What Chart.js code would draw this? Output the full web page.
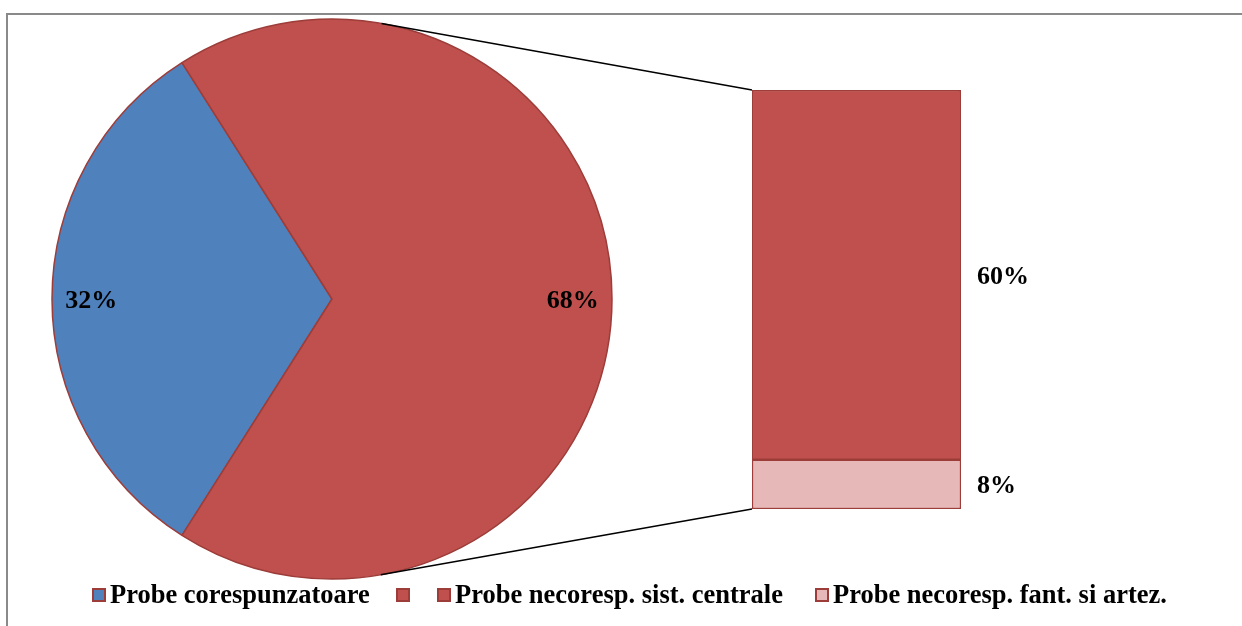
<!DOCTYPE html>
<html>
<head>
<meta charset="utf-8">
<script src="https://cdn.jsdelivr.net/npm/chart.js@4/dist/chart.umd.min.js"></script>
<style>
  html, body { margin: 0; padding: 0; background: #fff; overflow: hidden; }
  #stage { position: relative; width: 1242px; height: 626px; overflow: hidden; }
  #frame { position: absolute; left: 6px; top: 13px; width: 1300px; height: 700px;
           border-left: 2px solid #8a8a8a; border-top: 2px solid #8a8a8a; box-sizing: border-box; }
  canvas { position: absolute; left: 0; top: 0; }
  .legend-item { position: absolute; top: 581px; height: 27px; display: flex; align-items: center;
                 font-family: "Liberation Serif", "Times New Roman", serif; font-weight: bold;
                 font-size: 26.5px; line-height: 27px; color: #000; white-space: nowrap; }
  .legend-box { width: 10px; height: 10px; border: 2px solid #9c3d3a; margin-right: 4px; margin-top: 1px; flex: none; }
</style>
</head>
<body>
<div id="stage">
  <div id="frame"></div>
  <canvas id="pie" width="1242" height="626"></canvas>
  <canvas id="bar" width="1242" height="626"></canvas>
  <div id="legend"></div>
</div>
<script>
// Main pie: compliant samples vs. the aggregated non-compliant share
const pieLabels = ['Probe corespunzatoare', ''];
const pieValues = [32, 68];

// Breakdown of the non-compliant share (bottom segment first)
const barLabels = ['Probe necoresp. fant. si artez.', 'Probe necoresp. sist. centrale'];
const barValues = [8, 60];

// Legend entries in display order
const legendLabels = ['Probe corespunzatoare', '', 'Probe necoresp. sist. centrale', 'Probe necoresp. fant. si artez.'];

const BLUE = '#4f81bd', RED = '#c0504d', PINK = '#e6b9b8', EDGE = '#9c3d3a';
const legendColors = [BLUE, RED, RED, PINK];
const legendLeft = [92, 396, 437, 815];
const LABEL_FONT = 'bold 26px "Liberation Serif", "Times New Roman", serif';

// Percent labels inside the pie, near the outer rim
const pieLabelPlugin = {
  id: 'pieLabels',
  afterDatasetsDraw(chart) {
    const ctx = chart.ctx;
    const meta = chart.getDatasetMeta(0);
    ctx.save();
    ctx.font = LABEL_FONT;
    ctx.fillStyle = '#000';
    ctx.textAlign = 'center';
    ctx.textBaseline = 'middle';
    meta.data.forEach((arc, i) => {
      const p = arc.getProps(['x', 'y', 'startAngle', 'endAngle', 'outerRadius'], true);
      const mid = (p.startAngle + p.endAngle) / 2;
      const r = p.outerRadius * 0.86;
      ctx.fillText(chart.data.datasets[0].data[i] + '%', p.x + Math.cos(mid) * r, p.y + Math.sin(mid) * r + 2);
    });
    ctx.restore();
  }
};

const pieChart = new Chart(document.getElementById('pie'), {
  type: 'pie',
  data: {
    labels: pieLabels,
    datasets: [{
      data: pieValues,
      backgroundColor: [BLUE, RED],
      borderColor: EDGE,
      borderWidth: 1.5
    }]
  },
  options: {
    responsive: false,
    animation: false,
    rotation: 212.4,
    radius: 280,
    layout: { padding: { left: 52, right: 630, top: 19, bottom: 47 } },
    plugins: { legend: { display: false }, tooltip: { enabled: false } },
    events: []
  },
  plugins: [pieLabelPlugin]
});

// Connector lines from the pie (tangent) to the stacked bar corners, plus bar labels
const barExtrasPlugin = {
  id: 'barExtras',
  afterDatasetsDraw(chart) {
    const ctx = chart.ctx;
    const arc = pieChart.getDatasetMeta(0).data[0];
    const cx = arc.x, cy = arc.y, R = arc.outerRadius;
    const bottomBar = chart.getDatasetMeta(0).data[0];
    const topBar = chart.getDatasetMeta(chart.data.datasets.length - 1).data[0];
    const left = bottomBar.x - bottomBar.width / 2;
    const corners = [
      { x: left, y: topBar.y, sign: -1 },
      { x: left, y: bottomBar.base, sign: 1 }
    ];
    ctx.save();
    ctx.strokeStyle = '#000';
    ctx.lineWidth = 1.5;
    corners.forEach(c => {
      const dx = c.x - cx, dy = c.y - cy;
      const d = Math.hypot(dx, dy);
      const a = Math.atan2(dy, dx) + c.sign * Math.acos(R / d);
      ctx.beginPath();
      ctx.moveTo(cx + Math.cos(a) * R, cy + Math.sin(a) * R);
      ctx.lineTo(c.x, c.y);
      ctx.stroke();
    });
    ctx.font = LABEL_FONT;
    ctx.fillStyle = '#000';
    ctx.textAlign = 'left';
    ctx.textBaseline = 'middle';
    chart.data.datasets.forEach((ds, i) => {
      const el = chart.getDatasetMeta(i).data[0];
      ctx.fillText(ds.data[0] + '%', el.x + el.width / 2 + 16, (el.y + el.base) / 2 + 2);
    });
    ctx.restore();
  }
};

new Chart(document.getElementById('bar'), {
  type: 'bar',
  data: {
    labels: ['Alte'],
    datasets: barLabels.map((label, i) => ({
      label,
      data: [barValues[i]],
      backgroundColor: i === 0 ? PINK : RED,
      borderColor: EDGE,
      borderWidth: 1.5,
      borderSkipped: false,
      barPercentage: 1,
      categoryPercentage: 1
    }))
  },
  options: {
    responsive: false,
    animation: false,
    layout: { padding: { left: 752, right: 281, top: 90, bottom: 117 } },
    scales: {
      x: { stacked: true, display: false },
      y: { stacked: true, display: false, min: 0, max: barValues.reduce((a, b) => a + b, 0) }
    },
    plugins: { legend: { display: false }, tooltip: { enabled: false } },
    events: []
  },
  plugins: [barExtrasPlugin]
});

// Legend row
const legend = document.getElementById('legend');
legendLabels.forEach((text, i) => {
  const item = document.createElement('div');
  item.className = 'legend-item';
  item.style.left = legendLeft[i] + 'px';
  const box = document.createElement('span');
  box.className = 'legend-box';
  box.style.background = legendColors[i];
  item.appendChild(box);
  if (text) item.appendChild(document.createTextNode(text));
  legend.appendChild(item);
});
</script>
</body>
</html>
